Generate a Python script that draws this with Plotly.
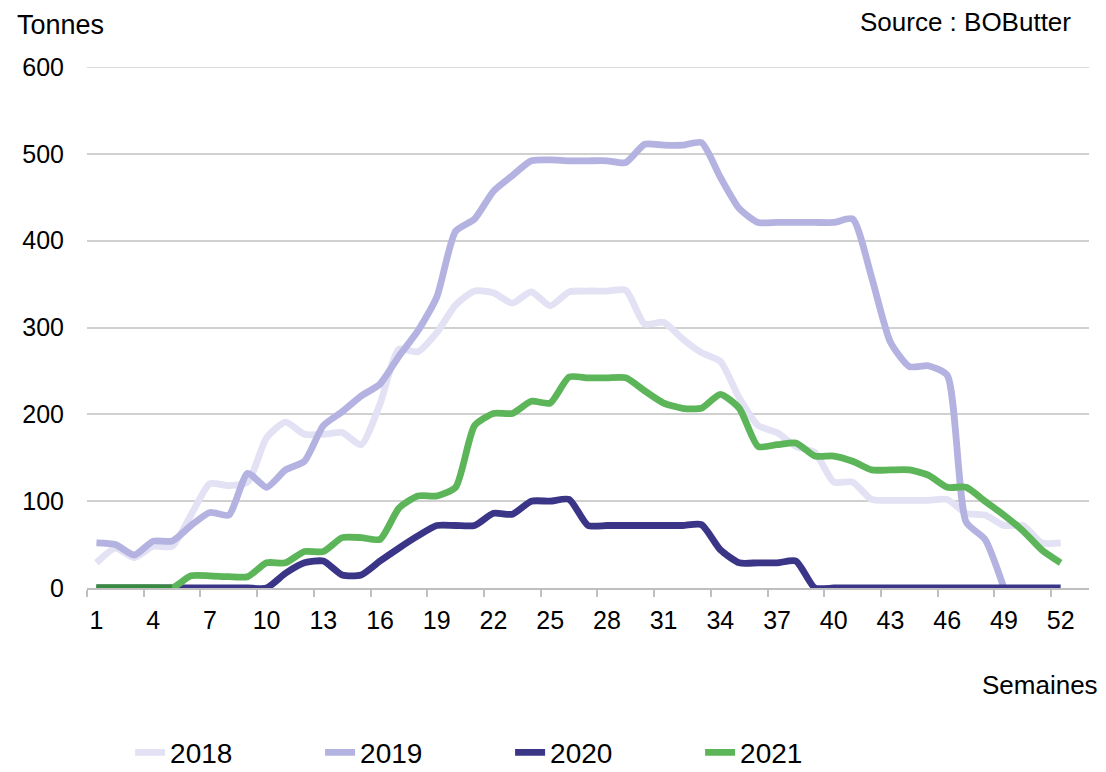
import plotly.graph_objects as go

weeks = list(range(1, 53))
tick_weeks = list(range(1, 53, 3))
y_ticks = [0, 100, 200, 300, 400, 500, 600]

v2018 = [29, 46, 35, 48, 48, 84, 120, 118, 122, 173, 191, 177, 177, 179, 165, 212, 275, 272,
         294, 326, 342, 340, 328, 341, 325, 341, 342, 342, 343, 304, 306, 287, 271, 261, 219, 187,
         179, 163, 156, 122, 122, 102, 101, 101, 101, 102, 86, 84, 72, 72, 52, 52]
v2019 = [52, 50, 38, 54, 54, 72, 87, 84, 132, 116, 136, 146, 187, 203, 221, 235, 267, 296,
         335, 411, 425, 457, 475, 492, 493, 492, 492, 492, 490, 511, 510, 510, 513, 473, 437, 421,
         421, 421, 421, 421, 425, 358, 283, 255, 256, 245, 76, 56, 0]
v2020 = [0, 0, 0, 0, 0, 0, 0, 0, 0, 0, 17, 29, 31, 15, 15, 31, 46, 60,
         72, 72, 72, 86, 85, 100, 100, 102, 72, 72, 72, 72, 72, 72, 73, 44, 29, 29,
         29, 31, 0, 0, 0, 0, 0, 0, 0, 0, 0, 0, 0, 0, 0, 0]
v2021 = [0, 0, 0, 0, 0, 14, 14, 13, 13, 29, 29, 42, 42, 58, 58, 56, 92, 106,
         106, 116, 187, 201, 201, 215, 213, 243, 242, 242, 242, 227, 213, 207, 207, 223, 207, 163,
         165, 167, 152, 152, 146, 136, 136, 136, 130, 116, 116, 100, 84, 66, 44, 29]

series = [
    ("2018", v2018, "#e3e1f4"),
    ("2019", v2019, "#b4b2e0"),
    ("2020", v2020, "#3a3587"),
    ("2021", v2021, "#5db55a"),
]

FONT = "Liberation Sans, Arial, sans-serif"

fig = go.Figure()
for name, vals, col in series:
    fig.add_trace(go.Scatter(
        x=weeks[:len(vals)], y=vals, name=name, mode="lines",
        line=dict(color=col, width=6.8, shape="spline", smoothing=0.6),
    ))
# darker overlap segment of 2021 over 2020 at the start
fig.add_trace(go.Scatter(
    x=weeks[:5], y=v2021[:5], mode="lines", showlegend=False, hoverinfo="skip",
    line=dict(color="#378a3f", width=6.8),
))

# top gridline (plotly hides the grid line sitting on the plot edge)
fig.add_shape(type="line", xref="paper", yref="y", x0=0, x1=1,
              y0=y_ticks[-1], y1=y_ticks[-1], line=dict(color="#d0d0d0", width=1.5),
              layer="below")

fig.update_layout(
    width=1098, height=764,
    margin=dict(l=79, r=17, t=59, b=184, autoexpand=False),
    paper_bgcolor="white", plot_bgcolor="white",
    font=dict(family=FONT, size=26, color="#000000"),
    showlegend=True,
    legend=dict(
        orientation="h", x=0.043, xanchor="left", y=-0.316, yanchor="middle",
        font=dict(size=28, family=FONT), entrywidth=145, entrywidthmode="pixels",
        traceorder="normal",
    ),
    xaxis=dict(
        range=[0.5, 53.5], tickmode="array", tickvals=tick_weeks,
        ticktext=[str(w) for w in tick_weeks], ticks="", showgrid=False,
        showline=True, linecolor="#bfbfbf", linewidth=1.5, zeroline=False,
        tickfont=dict(size=25), ticklabelstandoff=9,
        minor=dict(tickvals=[w - 0.5 for w in tick_weeks], ticks="outside",
                   ticklen=7, tickcolor="#bfbfbf", tickwidth=1.5, showgrid=False),
    ),
    yaxis=dict(
        range=[0, 600], tickvals=y_ticks,
        showgrid=True, gridcolor="#d0d0d0", gridwidth=1.5, zeroline=False,
        showline=False, ticks="", tickfont=dict(size=25), ticklabelstandoff=22,
    ),
    annotations=[
        dict(text="Tonnes", xref="paper", yref="paper", x=-0.072, y=1.081,
             xanchor="left", yanchor="middle", showarrow=False, font=dict(size=27)),
        dict(text="Source : BOButter", xref="paper", yref="paper", x=0.984, y=1.087,
             xanchor="right", yanchor="middle", showarrow=False, font=dict(size=26)),
        dict(text="Semaines", xref="paper", yref="paper", x=1.011, y=-0.186,
             xanchor="right", yanchor="middle", showarrow=False, font=dict(size=26)),
    ],
)

fig.write_html("out.html")
